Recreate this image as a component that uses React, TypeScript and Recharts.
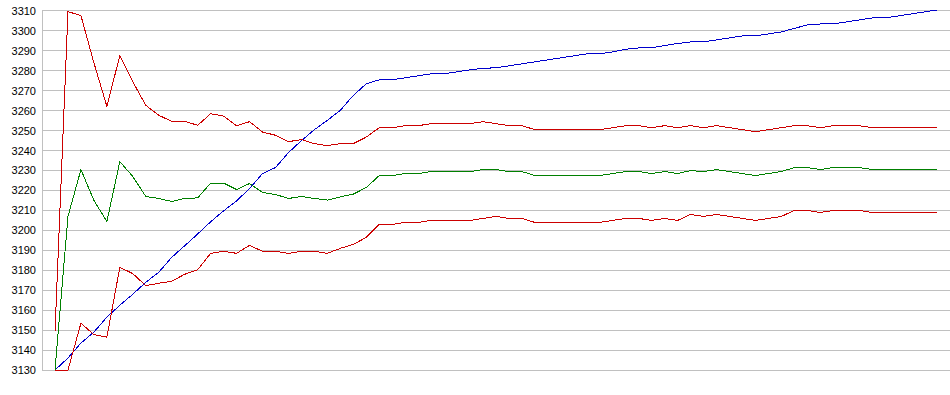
import { LineChart, Line, XAxis, YAxis, CartesianGrid } from 'recharts';

const yTicks = [3130, 3140, 3150, 3160, 3170, 3180, 3190, 3200, 3210, 3220, 3230, 3240, 3250, 3260, 3270, 3280, 3290, 3300, 3310];

const blue = [
  3130, 3136, 3143.5, 3149, 3156.5, 3162.5, 3168, 3174, 3179, 3186.5,
  3192.3, 3198.2, 3204.3, 3209.8, 3214.8, 3221, 3228.5, 3231.5, 3239, 3245,
  3250.5, 3255.2, 3260.2, 3267.7, 3273.5, 3275.5, 3275.5, 3276.5, 3277.5, 3278.5,
  3278.5, 3279.5, 3280.5, 3281.3, 3281.5, 3282.5, 3283.5, 3284.5, 3285.5, 3286.5,
  3287.5, 3288.5, 3288.5, 3289.5, 3290.8, 3291.5, 3291.5, 3292.7, 3293.7, 3294.5,
  3294.5, 3295.5, 3296.5, 3297.5, 3297.5, 3298.5, 3299.5, 3301.3, 3303, 3303.5,
  3303.5, 3304.5, 3305.5, 3306.5, 3306.5, 3307.5, 3308.5, 3309.5, 3310.5,
];

const redHigh = [
  3149, 3309.7, 3307.7, 3284, 3262.2, 3287.7, 3274.5, 3262.7, 3257.7, 3254.7,
  3254.7, 3252.7, 3258.5, 3257.3, 3252.5, 3254.5, 3249.3, 3247.7, 3244.5, 3245.5,
  3243.5, 3242.5, 3243.5, 3243.5, 3246.8, 3251.5, 3251.5, 3252.5, 3252.5, 3253.5,
  3253.5, 3253.5, 3253.5, 3254.5, 3253.5, 3252.5, 3252.5, 3250.5, 3250.5, 3250.5,
  3250.5, 3250.5, 3250.5, 3251.5, 3252.5, 3252.5, 3251.5, 3252.5, 3251.5, 3252.5,
  3251.5, 3252.5, 3251.5, 3250.5, 3249.5, 3250.5, 3251.5, 3252.5, 3252.5, 3251.5,
  3252.5, 3252.5, 3252.5, 3251.5, 3251.5, 3251.5, 3251.5, 3251.5, 3251.5,
];

const green = [
  3130, 3207, 3230.5, 3215, 3204.5, 3234.5, 3227, 3217, 3216, 3214.5,
  3216, 3216.3, 3223.7, 3223.7, 3220.5, 3223.5, 3219, 3218, 3216, 3217,
  3216, 3215.2, 3216.8, 3218.2, 3221.5, 3227.5, 3227.5, 3228.5, 3228.5, 3229.5,
  3229.5, 3229.5, 3229.5, 3230.5, 3230.5, 3229.5, 3229.5, 3227.5, 3227.5, 3227.5,
  3227.5, 3227.5, 3227.5, 3228.5, 3229.5, 3229.5, 3228.5, 3229.5, 3228.5, 3230,
  3229.5, 3230.5, 3229.5, 3228.5, 3227.5, 3228.5, 3229.5, 3231.5, 3231.5, 3230.5,
  3231.5, 3231.5, 3231.5, 3230.5, 3230.5, 3230.5, 3230.5, 3230.5, 3230.5,
];

const redLow = [
  3130, 3130, 3153.5, 3147.7, 3146.5, 3181.5, 3178.3, 3172.3, 3173.5, 3174.5,
  3178, 3180.3, 3188.5, 3189.5, 3188.5, 3192.5, 3189.5, 3189.5, 3188.5, 3189.5,
  3189.5, 3188.5, 3191, 3193, 3196.5, 3203, 3203, 3204, 3204, 3205,
  3205, 3205, 3205, 3206, 3207, 3206, 3206, 3204, 3204, 3204,
  3204, 3204, 3204, 3205, 3206, 3206, 3205, 3206, 3205, 3208,
  3207, 3208, 3207, 3206, 3205, 3206, 3207, 3210, 3210, 3209,
  3210, 3210, 3210, 3209, 3209, 3209, 3209, 3209, 3209,
];

const data = blue.map((b, i) => ({
  idx: i,
  blue: b,
  redHigh: redHigh[i],
  green: green[i],
  redLow: redLow[i],
}));

export default function App() {
  return (
    <div style={{ position: 'absolute', left: 0, top: 0, background: '#fff' }}>
      <LineChart width={950} height={395} data={data} margin={{ top: 10, right: 0, bottom: 25, left: 0 }}>
        <CartesianGrid vertical={false} stroke="#c0c0c0" shapeRendering="crispEdges" />
        <XAxis dataKey="idx" type="number" domain={[0, blue.length - 1]} hide padding={{ left: 13, right: 13 }} />
        <YAxis
          domain={[3130, 3310]}
          ticks={yTicks}
          interval={0}
          width={42}
          tickLine={false}
          tickSize={4}
          tickMargin={2}
          axisLine={{ stroke: '#c0c0c0', shapeRendering: 'crispEdges' }}
          tick={{ fill: '#000', fontSize: 11, fontFamily: 'Liberation Sans' }}
        />
        <Line type="linear" dataKey="blue" stroke="#0000cc" strokeWidth={1} dot={false} shapeRendering="crispEdges" isAnimationActive={false} />
        <Line type="linear" dataKey="redHigh" stroke="#cc0000" strokeWidth={1} dot={false} shapeRendering="crispEdges" isAnimationActive={false} />
        <Line type="linear" dataKey="green" stroke="#008000" strokeWidth={1} dot={false} shapeRendering="crispEdges" isAnimationActive={false} />
        <Line type="linear" dataKey="redLow" stroke="#cc0000" strokeWidth={1} dot={false} shapeRendering="crispEdges" isAnimationActive={false} />
      </LineChart>
    </div>
  );
}
